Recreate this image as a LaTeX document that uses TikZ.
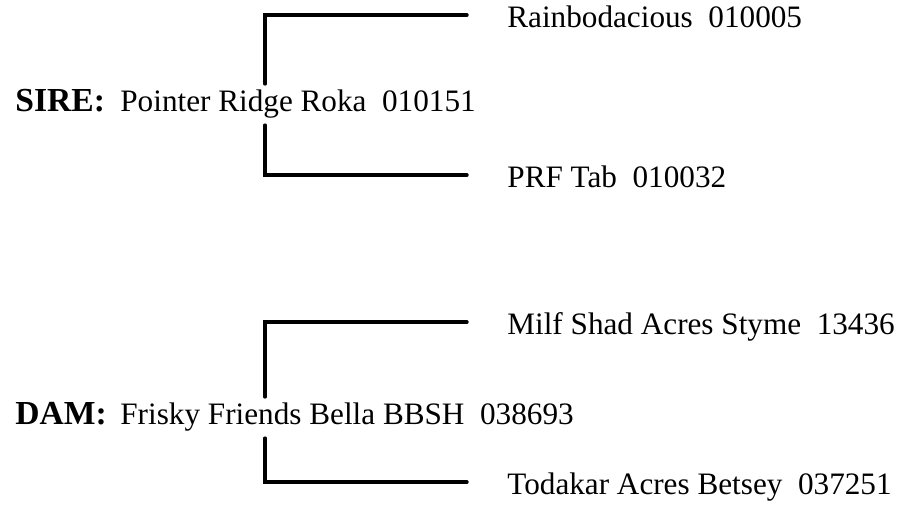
\documentclass[tikz,border=0pt]{standalone}
\usepackage{fontspec}
\setmainfont{Liberation Serif}
\usetikzlibrary{positioning}

\begin{document}
\begin{tikzpicture}[
  x=0.5pt, y=-0.5pt,
  every node/.style={font=\fontsize{15.6}{18}\selectfont, inner xsep=0pt, inner ysep=3pt},
  horse/.style={anchor=base west},
  role/.style={anchor=base west, font=\fontsize{16.8}{19}\selectfont\bfseries},
  bracket/.style={line width=1.7pt, line cap=round}
]
\useasboundingbox (0,0) rectangle (900,506);
% sire side
\node[role] (sirelbl) at (15,112) {SIRE:};
\node[horse] (sire) at (120,112) {Pointer Ridge Roka~ 010151};
\node[horse] (siresire) at (507,28) {Rainbodacious~ 010005};
\node[horse] (siredam) at (507,188) {PRF Tab~ 010032};
\coordinate (sirex) at (265,0);
\coordinate (siretop) at (467,15);
\coordinate (sirebot) at (467,175);
\draw[bracket] (sire.north -| sirex) |- (siretop);
\draw[bracket] (sire.south -| sirex) |- (sirebot);
% dam side
\node[role] (damlbl) at (15,425) {DAM:};
\node[horse] (dam) at (120,425) {Frisky Friends Bella BBSH~ 038693};
\node[horse] (damsire) at (507,335) {Milf Shad Acres Styme~ 13436};
\node[horse] (damdam) at (507,495) {Todakar Acres Betsey~ 037251};
\coordinate (damx) at (265,0);
\coordinate (damtop) at (467,322);
\coordinate (dambot) at (467,482);
\draw[bracket] (dam.north -| damx) |- (damtop);
\draw[bracket] (dam.south -| damx) |- (dambot);
\end{tikzpicture}
\end{document}
